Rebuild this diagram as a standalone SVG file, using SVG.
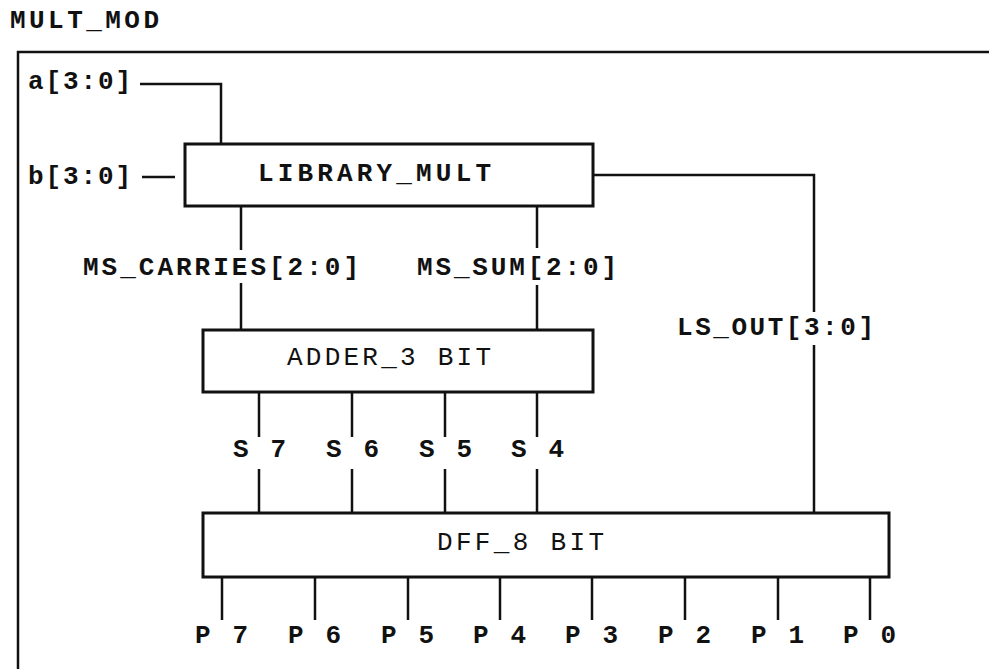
<svg xmlns="http://www.w3.org/2000/svg" width="989" height="669" viewBox="0 0 989 669">
<style>
text{font-family:"Liberation Mono","Courier New",monospace;font-size:26px;fill:#111}
.b{font-weight:bold}
.box{fill:#fff;stroke:#111;stroke-width:3}
.w{fill:none;stroke:#111;stroke-width:2.5}
</style>
<rect width="989" height="669" fill="#fff"/>
<text class="b" x="10" y="28" textLength="149">MULT_MOD</text>
<g id="frame"><path class="w" d="M18,669 V52 H989" stroke-width="3"/></g>
<g id="connectors">
<path class="w" d="M140,84 H221 V144"/>
<path class="w" d="M142,177 H175"/>
<path class="w" d="M593,175 H814 V312 M814,345 V513"/>
<path class="w" d="M241,206 V250 M241,283 V330"/>
<path class="w" d="M537,206 V248 M537,285 V330"/>
<path class="w" d="M259,392 V437 M259,469 V513 M352,392 V437 M352,469 V513 M445,392 V437 M445,469 V513 M537,392 V437 M537,469 V513"/>
<path class="w" d="M222,577 V620 M315,577 V620 M408,577 V620 M500,577 V620 M592,577 V620 M685,577 V620 M778,577 V620 M870,577 V620"/>
</g>
<g id="labels">
<text class="b" x="28" y="89" textLength="103">a[3:0]</text>
<text class="b" x="28" y="184" textLength="103">b[3:0]</text>
<text class="b" x="83" y="275" textLength="276">MS_CARRIES[2:0]</text>
<text class="b" x="417" y="275" textLength="200">MS_SUM[2:0]</text>
<text class="b" x="677" y="335" textLength="197">LS_OUT[3:0]</text>
<text class="b" x="233" y="457" textLength="53">S 7</text>
<text class="b" x="326" y="457" textLength="53">S 6</text>
<text class="b" x="419" y="457" textLength="53">S 5</text>
<text class="b" x="511" y="457" textLength="53">S 4</text>
<text class="b" x="195" y="643" textLength="53">P 7</text>
<text class="b" x="288" y="643" textLength="53">P 6</text>
<text class="b" x="381" y="643" textLength="53">P 5</text>
<text class="b" x="473" y="643" textLength="53">P 4</text>
<text class="b" x="565" y="643" textLength="53">P 3</text>
<text class="b" x="658" y="643" textLength="53">P 2</text>
<text class="b" x="751" y="643" textLength="53">P 1</text>
<text class="b" x="843" y="643" textLength="53">P 0</text>
</g>
<g id="library_mult">
<rect class="box" x="185" y="144" width="408" height="62"/>
<text class="b" x="258" y="181" textLength="233">LIBRARY_MULT</text>
</g>
<g id="adder_3bit">
<rect class="box" x="203" y="330" width="390" height="62"/>
<text x="287" y="365" textLength="204">ADDER_3 BIT</text>
</g>
<g id="dff_8bit">
<rect class="box" x="203" y="513" width="686" height="64"/>
<text x="437" y="550" textLength="167">DFF_8 BIT</text>
</g>
</svg>
